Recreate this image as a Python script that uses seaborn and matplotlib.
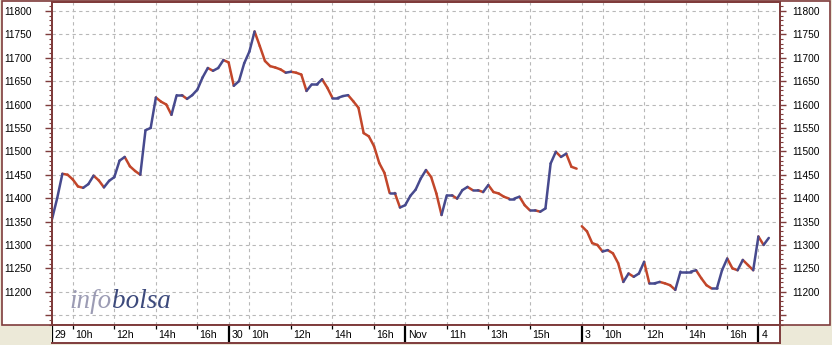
import numpy as np
import pandas as pd
import matplotlib
matplotlib.use("Agg")
import matplotlib.pyplot as plt
import seaborn as sns
from matplotlib.patches import Rectangle
from matplotlib.ticker import MultipleLocator, FuncFormatter

# ---------------- data (15-minute closes) ----------------
day_labels = ["29", "30", "Nov", "3", "4"]
joins_previous_day = [False, True, True, False, True]
session_hours = 8.5          # 9:00 - 17:30
step_minutes = 15

oct29 = [11355, 11400, 11452, 11450, 11440, 11425, 11422, 11430, 11448, 11438,
         11423, 11437, 11445, 11480, 11488, 11468, 11458, 11450, 11545, 11550,
         11615, 11606, 11600, 11578, 11620, 11620, 11612, 11620, 11632, 11658,
         11678, 11672, 11678, 11695]
oct30 = [11690, 11640, 11650, 11688, 11713, 11756, 11725, 11693, 11682, 11679,
         11675, 11668, 11670, 11668, 11664, 11629, 11643, 11643, 11654, 11636,
         11614, 11614, 11618, 11620, 11607, 11593, 11539, 11532, 11511, 11475,
         11454, 11411, 11411, 11380]
nov1 = [11385, 11405, 11418, 11442, 11460, 11445, 11410, 11364, 11406, 11406,
        11399, 11417, 11424, 11417, 11417, 11413, 11428, 11413, 11410, 11403,
        11399, 11399, 11403, 11385, 11374, 11374, 11371, 11378, 11474, 11499,
        11488, 11495, 11467, 11463]
nov3 = [11340, 11329, 11304, 11300, 11286, 11289, 11282, 11261, 11221, 11239,
        11232, 11239, 11264, 11218, 11218, 11221, 11218, 11214, 11204, 11243,
        11243, 11243, 11246, 11229, 11214, 11207, 11207, 11246, 11271, 11250,
        11246, 11268, 11257, 11246]
nov4 = [11318, 11300, 11315]
day_values = [oct29, oct30, nov1, nov3, nov4]

hour_ticks = [[10, 12, 14, 16], [10, 12, 14, 16], [11, 13, 15], [10, 12, 14, 16], []]
hour_labels = [[f"{h}h" for h in hs] for hs in hour_ticks]

y_min, y_max = 11129, 11819
y_label_min = 11200
x_max_hours = 35.04

# ---------------- styling ----------------
MAROON = "#7f3c3c"
RED = "#c2462a"
BLUE = "#474a8e"
BEIGE = "#ECE9D8"
GRID = "#b8b8b8"
FONT = "Liberation Sans"

W, H = 832, 345


def frac(x0, y0, x1, y1):
    return [x0 / W, 1 - y1 / H, (x1 - x0) / W, (y1 - y0) / H]


ylab = FuncFormatter(lambda v, p: f"{v:.0f}" if v >= y_label_min - 1 else "")

# ---------------- build tables ----------------
rows = []
for d, vals in enumerate(day_values):
    for k, v in enumerate(vals):
        rows.append(dict(day=d, t=d * session_hours + k * step_minutes / 60.0, price=v))
df = pd.DataFrame(rows)

seg_rows = []
for i in range(1, len(df)):
    a, b = df.iloc[i - 1], df.iloc[i]
    if a.day != b.day and not joins_previous_day[int(b.day)]:
        continue
    direction = "up" if b.price >= a.price else "down"
    seg_rows.append(dict(seg=i, t=a.t, price=a.price, dir=direction))
    seg_rows.append(dict(seg=i, t=b.t, price=b.price, dir=direction))
segs = pd.DataFrame(seg_rows)

# ---------------- figure ----------------
sns.set_style("white")
plt.rcParams["font.family"] = [FONT, "DejaVu Sans"]

fig = plt.figure(figsize=(W / 100, H / 100), dpi=100, facecolor=BEIGE)
fig.add_artist(Rectangle((2 / W, 1 - 325 / H), (830 - 2) / W, (325 - 1) / H,
                         transform=fig.transFigure, facecolor="white",
                         edgecolor=MAROON, lw=1.2, zorder=-5))

ax = fig.add_axes(frac(52, 2, 780, 325))
ax.set_facecolor("white")

sns.lineplot(data=segs, x="t", y="price", hue="dir", units="seg", estimator=None,
             palette={"up": BLUE, "down": RED}, hue_order=["down", "up"],
             linewidth=1.8, legend=False, sort=False, ax=ax)

ax.set_xlim(0, x_max_hours)
ax.set_ylim(y_min, y_max)
ax.set_xlabel("")
ax.set_ylabel("")

# vertical grid positions: day starts and hour ticks
grid_x = []
for d in range(len(day_labels)):
    if d > 0:
        grid_x.append(d * session_hours)
    grid_x += [d * session_hours + (h - 9) for h in hour_ticks[d]]
ax.set_xticks(grid_x)
ax.tick_params(axis="x", length=0, labelbottom=False)

ax.yaxis.set_major_locator(MultipleLocator(50))
ax.yaxis.set_minor_locator(MultipleLocator(10))
ax.yaxis.set_major_formatter(ylab)
ax.set_ylim(y_min, y_max)
ax.grid(True, which="major", linestyle=(0, (3, 3)), color=GRID, linewidth=0.8)
ax.tick_params(axis="y", which="major", direction="out", length=5, width=1,
               color=MAROON, labelsize=7.3, labelcolor="black", pad=9.5,
               left=True, right=False)
ax.tick_params(axis="y", which="minor", direction="out", length=2.2, width=0.8,
               color=MAROON, left=True, right=False)

for side in ["left", "right", "top", "bottom"]:
    ax.spines[side].set_color(MAROON)
    ax.spines[side].set_linewidth(1.4)

# right-hand scale
axr = ax.twinx()
axr.set_ylim(y_min, y_max)
axr.yaxis.set_major_locator(MultipleLocator(50))
axr.yaxis.set_minor_locator(MultipleLocator(10))
axr.yaxis.set_major_formatter(ylab)
axr.set_ylim(y_min, y_max)
axr.tick_params(axis="y", which="major", direction="out", length=4, width=1,
                color=MAROON, labelsize=7.3, labelcolor="black", pad=5)
axr.tick_params(axis="y", which="minor", direction="out", length=2.2, width=0.8,
                color=MAROON)
axr.grid(False)
for side in ["left", "right", "top", "bottom"]:
    axr.spines[side].set_color(MAROON)
    axr.spines[side].set_linewidth(1.4)

# watermark
t1 = ax.text(0.024, 0.052, "info", transform=ax.transAxes, fontsize=19.5,
             family="Liberation Serif", style="italic", color="#9c9cb4",
             va="baseline", ha="left")
ax.annotate("bolsa", xy=(1.0, 0.0), xycoords=t1, fontsize=19.5,
            family="Liberation Serif", style="italic", color="#3d4a7c",
            va="bottom", ha="left")

# ---------------- time band ----------------
band = fig.add_axes(frac(52, 325, 780, 343))
band.set_facecolor("white")
band.set_xlim(0, x_max_hours)
band.set_ylim(0, 1)
band.set_xticks([])
band.set_yticks([])
for side in ["left", "right", "top", "bottom"]:
    band.spines[side].set_color(MAROON)
    band.spines[side].set_linewidth(1.4)
band.spines["left"].set_visible(False)

for d, lab in enumerate(day_labels):
    x0 = d * session_hours
    band.axvline(x0, color="black", lw=1.6)
    band.text(x0 + 0.14, 0.42, lab, fontsize=7.6, va="center", ha="left", color="black")
    for h, hl in zip(hour_ticks[d], hour_labels[d]):
        xh = x0 + (h - 9)
        band.vlines(xh, 0.76, 1.0, color="black", lw=0.9)
        band.text(xh + 0.1, 0.42, hl, fontsize=7.6, va="center", ha="left", color="black")

fig.savefig("out.png", dpi=100, facecolor=BEIGE)
